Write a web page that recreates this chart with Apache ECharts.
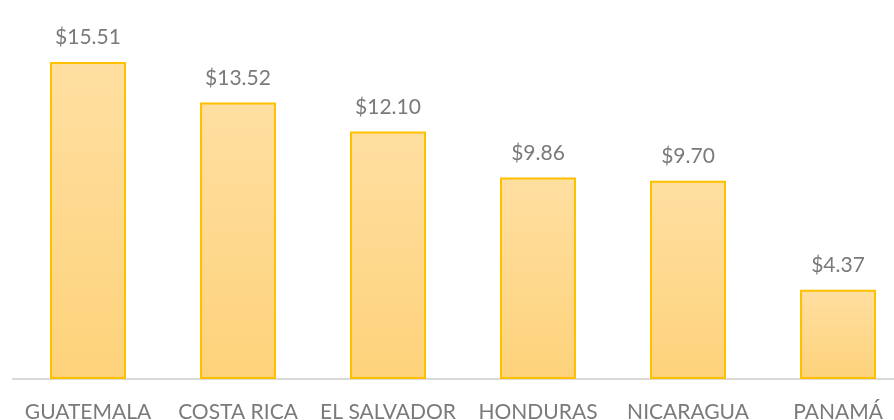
<!DOCTYPE html>
<html><head><meta charset="utf-8">
<script src="https://cdn.jsdelivr.net/npm/echarts@6/dist/echarts.min.js"></script>
<style>html,body{margin:0;padding:0;background:#fff}#c{width:894px;height:420px}</style>
</head><body><div id="c"></div>
<script>
const categories = ['GUATEMALA','COSTA RICA','EL SALVADOR','HONDURAS','NICARAGUA','PANAMÁ'];
const values = [15.51, 13.52, 12.10, 9.86, 9.70, 4.37];

const chart = echarts.init(document.getElementById('c'), null, {renderer:'canvas'});
chart.setOption({
  animation:false,
  grid:{left:13, top:11, right:-19, bottom:41, containLabel:false, outerBoundsMode:'none'},
  xAxis:{type:'category', data:categories,
    axisLine:{lineStyle:{color:'#d9d9d9', width:2}},
    axisTick:{show:false},
    axisLabel:{color:'#7a7a7a', fontSize:21, fontFamily:'Lato', margin:23, interval:0}},
  yAxis:{type:'value', min:0, max:18, show:false, splitLine:{show:false}},
  series:[{type:'bar', data:values, barWidth:76,
    itemStyle:{
      color:new echarts.graphic.LinearGradient(0,0,0,1,[{offset:0,color:'#FFDFA1'},{offset:1,color:'#FDD27A'}]),
      borderColor:'#FFC000', borderWidth:2},
    label:{show:true, position:'top', distance:14, color:'#7a7a7a', fontSize:21, fontFamily:'Lato',
      formatter:p=>'$'+p.value.toFixed(2)}
  }]
});
</script></body></html>
